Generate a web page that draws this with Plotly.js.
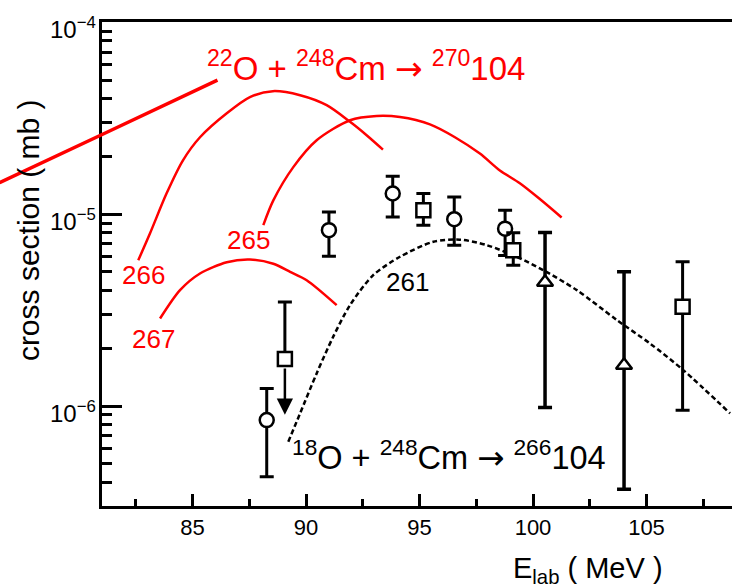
<!DOCTYPE html>
<html>
<head>
<meta charset="utf-8">
<script src="https://cdn.plot.ly/plotly-3.0.1.min.js"></script>
<style>
  html, body { margin: 0; padding: 0; background: #fff; }
  #chart { width: 732px; height: 587px; }
</style>
</head>
<body>
<div id="chart"></div>
<script>
// Excitation functions for 248Cm + O reactions, cross sections in mb vs E_lab (MeV)

// 22O + 248Cm -> 270-104 (steep rising branch)
const e270 = [76.5, 81.3, 86.1];
const s270 = [1.46e-5, 2.70e-5, 5.0e-5];

// calculated xn channels (red curves)
const e266 = [82.61, 83.13, 83.86, 84.58, 85.33, 86.51, 87.53, 88.54, 89.74, 90.91, 91.94, 92.67, 93.39];
const s266 = [5.75e-6, 7.96e-6, 1.285e-5, 1.91e-5, 2.52e-5, 3.36e-5, 4.08e-5, 4.38e-5, 4.17e-5, 3.70e-5, 3.03e-5, 2.58e-5, 2.17e-5];

const e265 = [88.12, 88.56, 89.44, 90.47, 91.94, 93.11, 94.14, 95.46, 96.56, 97.66, 98.54, 99.42, 100.30, 101.26];
const s265 = [8.77e-6, 1.18e-5, 1.76e-5, 2.43e-5, 3.09e-5, 3.25e-5, 3.21e-5, 2.94e-5, 2.52e-5, 2.07e-5, 1.69e-5, 1.45e-5, 1.20e-5, 9.62e-6];

const e267 = [83.57, 84.45, 85.33, 86.51, 87.53, 88.56, 89.30, 90.03, 91.35];
const s267 = [2.86e-6, 4.02e-6, 4.91e-6, 5.62e-6, 5.80e-6, 5.52e-6, 5.01e-6, 4.53e-6, 3.36e-6];

// 18O + 248Cm -> 261-104 (dashed)
const e261 = [89.22, 89.74, 90.47, 91.20, 91.94, 92.96, 94.14, 95.61, 96.78, 97.96, 99.28, 100.45, 101.93, 103.69, 105.15, 106.62, 108.68];
const s261 = [6.52e-7, 9.16e-7, 1.48e-6, 2.30e-6, 3.36e-6, 4.81e-6, 6.00e-6, 7.18e-6, 7.37e-6, 6.90e-6, 6.00e-6, 5.11e-6, 4.02e-6, 2.81e-6, 2.12e-6, 1.54e-6, 9.16e-7];

// measured points: circles
const eCircle = [88.27, 91.01, 93.82, 96.53, 98.77];
const sCircle = [8.45e-7, 8.26e-6, 1.283e-5, 9.42e-6, 8.41e-6];
const hiCircle = [1.236e-6, 1.027e-5, 1.578e-5, 1.23e-5, 1.05e-5];
const loCircle = [4.28e-7, 6.04e-6, 9.68e-6, 6.90e-6, 6.10e-6];

// measured points: squares (first one is an upper limit)
const eSquare = [89.07, 95.17, 99.13, 106.59];
const sSquare = [1.76e-6, 1.05e-5, 6.49e-6, 3.29e-6];
const hiSquare = [3.49e-6, 1.283e-5, 8.0e-6, 5.65e-6];
const loSquare = [1.76e-6, 8.77e-6, 5.42e-6, 9.52e-7];
const limitSquare = 9.0e-7;

// measured points: triangles
const eTriangle = [100.53, 104.01];
const sTriangle = [4.42e-6, 1.63e-6];
const hiTriangle = [8.04e-6, 5.01e-6];
const loTriangle = [9.84e-7, 3.68e-7];

// axis settings
const xMin = 81, xMax = 108.766, xFarLeft = 76.52;
const yLogMin = -6.521, yLogMax = -3.998;
const yDecades = [-6, -5, -4];
const yMajorTicks = yDecades.map(p => Math.pow(10, p));
const yMinorTicks = [];
[1e-7, 1e-6, 1e-5].forEach(d => { for (let k = 2; k <= 9; k++) yMinorTicks.push(k * d); });

const plus = (hi, s) => hi.map((v, i) => v - s[i]);
const minus = (lo, s) => lo.map((v, i) => s[i] - v);

const FONT = 'Arial, "Liberation Sans", sans-serif';
const RED = '#ff0000';
const ARROW = '<span style="font-family:DejaVu Sans">\u2192</span>';

function curve(x, y, color, width, dash, xaxis) {
  return {
    x, y, type: 'scatter', mode: 'lines', xaxis: xaxis || 'x', yaxis: 'y',
    line: { color, width, dash: dash || 'solid', shape: 'spline', smoothing: 0.8 },
    hoverinfo: 'skip'
  };
}

function points(x, y, hi, lo, symbol, size, thick) {
  return {
    x, y, type: 'scatter', mode: 'markers', xaxis: 'x', yaxis: 'y',
    marker: { symbol, size, color: '#fff', line: { color: '#000', width: 2.5 } },
    error_y: {
      type: 'data', symmetric: false,
      array: plus(hi, y), arrayminus: minus(lo, y),
      color: '#000', thickness: thick || 3, width: 7
    },
    hoverinfo: 'skip'
  };
}

const traces = [
  curve(e270, s270, RED, 3.5, 'solid', 'x2'),
  curve(e266, s266, RED, 2.5),
  curve(e265, s265, RED, 2.5),
  curve(e267, s267, RED, 2.5),
  curve(e261, s261, '#000', 2.5, '5px,3px'),
  points(eCircle, sCircle, hiCircle, loCircle, 'circle', 14),
  points(eSquare, sSquare, hiSquare, loSquare, 'square', 14),
  points(eTriangle, sTriangle, hiTriangle, loTriangle, 'triangle-up', 14, 3.5)
];

const lg = Math.log10;

function label(text, x, y, color, size, xanchor) {
  return {
    text, x, y: lg(y), xref: 'x', yref: 'y', showarrow: false,
    xanchor: xanchor || 'center', yanchor: 'middle',
    font: { family: FONT, size, color }
  };
}

// decade labels of the log axis, written as powers of ten
const decadeLabels = yDecades.map(p => ({
  text: '10<sup>\u2212' + Math.abs(p) + '</sup>',
  xref: 'paper', yref: 'y', x: 98 / 732, y: p,
  xanchor: 'right', yanchor: 'middle', yshift: -6, showarrow: false,
  font: { family: FONT, size: 24, color: '#000' }
}));

const annotations = decadeLabels.concat([
  label('<sup>22</sup>O + <sup>248</sup>Cm ' + ARROW + ' <sup>270</sup>104', 85.55, 5.9e-5, RED, 33, 'left'),
  label('<sup>18</sup>O + <sup>248</sup>Cm ' + ARROW + ' <sup>266</sup>104', 89.30, 5.55e-7, '#000', 32.5, 'left'),
  label('266', 82.86, 4.8e-6, RED, 26),
  label('267', 83.30, 2.23e-6, RED, 26),
  label('265', 87.47, 7.3e-6, RED, 26),
  label('261', 94.49, 4.43e-6, '#000', 26),
  {
    // upper-limit arrow from the first square
    x: eSquare[0], y: lg(limitSquare), ax: eSquare[0], ay: lg(sSquare[0]),
    xref: 'x', yref: 'y', axref: 'x', ayref: 'y', text: '',
    showarrow: true, arrowhead: 2, arrowsize: 1.3, arrowwidth: 2.5, arrowcolor: '#000',
    startstandoff: 8
  },
  {
    text: 'E<sub>lab</sub> ( MeV )', xref: 'paper', yref: 'paper',
    x: 588 / 732, y: -0.132, showarrow: false, xanchor: 'center', yanchor: 'middle',
    font: { family: FONT, size: 29, color: '#000' }
  },
  {
    text: 'cross section ( mb )', xref: 'paper', yref: 'paper',
    x: 28 / 732, y: 0.57, showarrow: false, textangle: -90,
    xanchor: 'center', yanchor: 'middle',
    font: { family: FONT, size: 30, color: '#000' }
  }
]);

const layout = {
  width: 732, height: 587,
  margin: { l: 0, r: 0, t: 22, b: 81, pad: 0 },
  paper_bgcolor: '#fff', plot_bgcolor: 'rgba(0,0,0,0)',
  showlegend: false,
  font: { family: FONT, color: '#000' },
  xaxis: {
    domain: [101.7 / 732, 1], range: [xMin, xMax], anchor: 'y',
    showline: true, linewidth: 3, linecolor: '#000', mirror: true,
    ticks: 'inside', ticklen: 12, tickwidth: 3, tickcolor: '#000',
    tick0: 85, dtick: 5, showgrid: false, zeroline: false,
    tickfont: { family: FONT, size: 22, color: '#000' },
    minor: { ticks: 'inside', ticklen: 7, tickwidth: 3, tickcolor: '#000', tick0: 82.5, dtick: 2.5, showgrid: false }
  },
  xaxis2: {
    domain: [0, 1], range: [xFarLeft, xMax], anchor: 'y', visible: false
  },
  yaxis: {
    type: 'log', range: [yLogMin, yLogMax], anchor: 'x',
    showline: true, linewidth: 3, linecolor: '#000',
    ticks: 'inside', ticklen: 20, tickwidth: 3, tickcolor: '#000',
    tickmode: 'array', tickvals: yMajorTicks, showticklabels: false,
    showgrid: false, zeroline: false,
    minor: { ticks: 'inside', ticklen: 10, tickwidth: 3, tickcolor: '#000', tickmode: 'array', tickvals: yMinorTicks, showgrid: false }
  },
  annotations
};

Plotly.newPlot('chart', traces, layout, { staticPlot: true, displayModeBar: false });
</script>
</body>
</html>
